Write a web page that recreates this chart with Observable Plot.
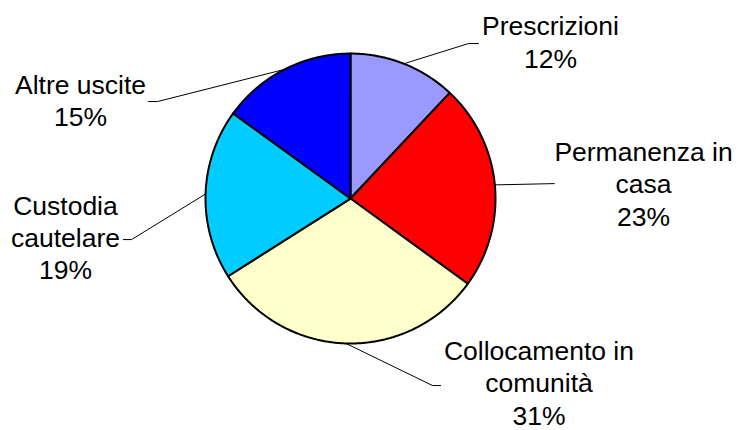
<!DOCTYPE html>
<html><head><meta charset="utf-8">
<script src="https://cdn.jsdelivr.net/npm/d3@7"></script>
<script src="https://cdn.jsdelivr.net/npm/@observablehq/plot@0.6"></script>
<style>body{margin:0;background:#fff}</style>
</head><body><div id="chart"></div>
<script>
const categories = ["Prescrizioni","Permanenza in casa","Collocamento in comunità","Custodia cautelare","Altre uscite"];
const values = [12, 23, 31, 19, 15];
const labelLines = [["Prescrizioni","12%"],["Permanenza in","casa","23%"],["Collocamento in","comunità","31%"],["Custodia","cautelare","19%"],["Altre uscite","15%"]];
const colors = ["#9999FF","#FF0000","#FFFFCC","#00CCFF","#0000FF"];

// label layout, in pie-radius units (centre = 0,0; y up)
const labelLayout = [
  {elbow:[0.814,1.069], end:[0.883,1.069], text:[1.379,1.086]},
  {elbow:[1.407,0.103], end:[1.407,0.103], text:[2.021,0.107]},
  {elbow:[0.566,-1.290], end:[0.621,-1.290], text:[1.300,-1.266]},
  {elbow:[-1.510,-0.283], end:[-1.566,-0.283], text:[-1.966,-0.262]},
  {elbow:[-1.331,0.669], end:[-1.393,0.669], text:[-1.862,0.680]}
];

const arcs = d3.pie().sort(null).value(d => d)(values);
const slicePts = [];
arcs.forEach((a, i) => {
  slicePts.push({cat: categories[i], color: colors[i], x: 0, y: 0});
  const n = Math.max(2, Math.ceil((a.endAngle - a.startAngle) / (Math.PI / 360)));
  for (let k = 0; k <= n; k++) {
    const t = a.startAngle + (a.endAngle - a.startAngle) * k / n;
    slicePts.push({cat: categories[i], color: colors[i], x: Math.sin(t), y: Math.cos(t)});
  }
});

const leaderPts = [];
arcs.forEach((a, i) => {
  const m = (a.startAngle + a.endAngle) / 2;
  const L = labelLayout[i];
  leaderPts.push({cat: categories[i], x: Math.sin(m), y: Math.cos(m)});
  leaderPts.push({cat: categories[i], x: L.elbow[0], y: L.elbow[1]});
  leaderPts.push({cat: categories[i], x: L.end[0], y: L.end[1]});
});

const labelData = categories.map((c, i) => ({cat: c, text: labelLines[i].join("\n"), x: labelLayout[i].text[0], y: labelLayout[i].text[1]}));

const chart = Plot.plot({
  width: 740, height: 430, margin: 0,
  x: {domain: [-2.414, 2.690], axis: null},
  y: {domain: [-1.6, 1.366], axis: null},
  color: {type: "identity"},
  style: {fontFamily: "'Liberation Sans', Arial, sans-serif", background: "#fff"},
  marks: [
    Plot.line(leaderPts, {x: "x", y: "y", z: "cat", stroke: "black", strokeWidth: 1}),
    Plot.line(slicePts, {x: "x", y: "y", z: "cat", fill: "color", stroke: "black", strokeWidth: 2, curve: "linear-closed", strokeLinejoin: "round"}),
    Plot.text(labelData, {x: "x", y: "y", text: "text", fontSize: 26.5, lineHeight: 1.22, lineAnchor: "middle", textAnchor: "middle", fill: "black"})
  ]
});
document.getElementById("chart").appendChild(chart);
</script>
</body></html>
